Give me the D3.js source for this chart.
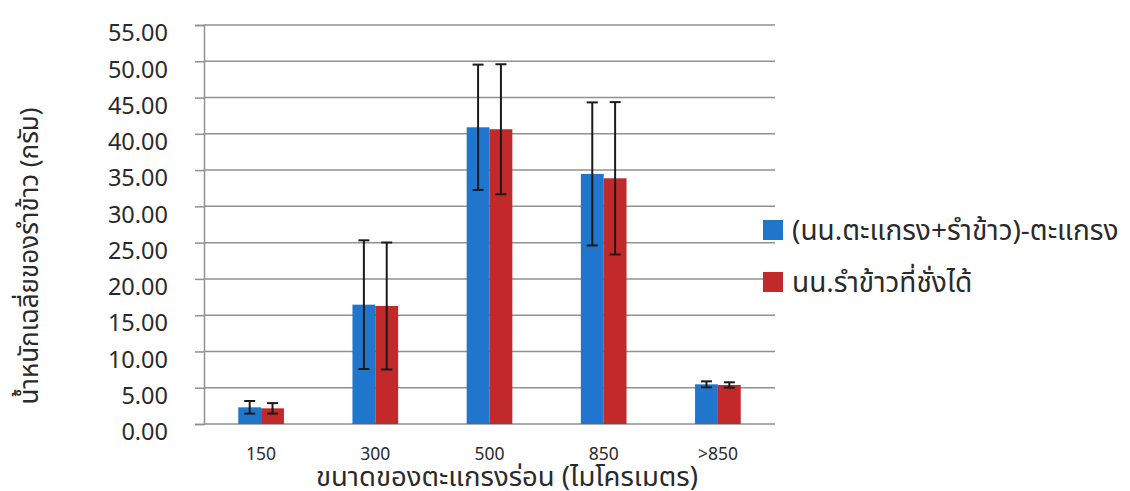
<!DOCTYPE html>
<html>
<head>
<meta charset="utf-8">
<script src="https://cdn.jsdelivr.net/npm/d3@7"></script>
<style>
    body{margin:0;background:#fff;}
    svg{display:block;}
    text{font-family:"Noto Sans","Noto Sans Thai",Tahoma,sans-serif;fill:#2a2a2a;}
</style>
</head>
<body>
<div id="chart"></div>
<script>
//chart data
const categories=[`150`,`300`,`500`,`850`,`>850`];
const seriesNames=[`(นน.ตะแกรง+รำข้าว)-ตะแกรง`,`นน.รำข้าวที่ชั่งได้`];
const netWeight=[2.30,16.45,40.90,34.47,5.47];
const netError=[0.87,8.87,8.64,9.86,0.41];
const riceBranWeight=[2.16,16.27,40.63,33.87,5.38];
const riceBranError=[0.72,8.75,8.96,10.50,0.37];
const yTicks=[0,5,10,15,20,25,30,35,40,45,50,55];
const yTitle=`น้ำหนักเฉลี่ยของรำข้าว (กรัม)`;
const xTitle=`ขนาดของตะแกรงร่อน (ไมโครเมตร)`;

let Setting={
    width:1130,
    height:491,
    plot:{left:204,right:775,top:25,bottom:424},
    color:[`#1f76cc`,`#c1292b`],
    grid:`#919191`
};

let Barchart={
    //empty svg
    generateGraph(container){
        return d3.select(container).append(`svg`)
            .attr(`width`,Setting.width)
            .attr(`height`,Setting.height);
    },
    generateYAxis(svg){
        let p=Setting.plot;
        let y=d3.scaleLinear().domain([0,55]).range([p.bottom,p.top]);

        //grid lines
        svg.append(`g`)
            .attr(`class`,`grid`)
            .selectAll(`line`)
            .data(yTicks)
            .enter()
            .append(`line`)
            .attr(`x1`,p.left)
            .attr(`x2`,p.right)
            .attr(`y1`,(d)=>{return y(d);})
            .attr(`y2`,(d)=>{return y(d);})
            .attr(`stroke`,Setting.grid)
            .attr(`stroke-width`,1.5);

        let axis=svg.append(`g`)
            .attr(`class`,`y axis`)
            .attr(`transform`,`translate(${p.left},0)`)
            .call(d3.axisLeft(y).tickValues(yTicks).tickFormat(d3.format(`.2f`)).tickSize(9).tickPadding(27));
        axis.select(`.domain`).attr(`stroke`,Setting.grid).attr(`stroke-width`,1.5);
        axis.selectAll(`.tick line`).attr(`stroke`,Setting.grid).attr(`stroke-width`,1.5);
        axis.selectAll(`.tick text`)
            .attr(`fill`,`#2a2a2a`)
            .attr(`dy`,`0.67em`)
            .style(`font-size`,`23.5px`);

        svg.append(`text`)
            .attr(`class`,`y unit`)
            .attr(`transform`,`translate(38,256) rotate(-90)`)
            .attr(`text-anchor`,`middle`)
            .style(`font-size`,`26px`)
            .text(yTitle);

        return y;
    },
    generateXAxis(svg){
        let p=Setting.plot;
        let x=d3.scaleBand().domain(categories).range([p.left,p.right]).paddingInner(0.6).paddingOuter(0.3);

        let axis=svg.append(`g`)
            .attr(`class`,`x axis`)
            .attr(`transform`,`translate(0,${p.bottom})`)
            .call(d3.axisBottom(x).tickSize(0).tickPadding(24));
        axis.select(`.domain`).remove();
        axis.selectAll(`.tick text`)
            .attr(`fill`,`#2a2a2a`)
            .style(`font-size`,`17.5px`);

        svg.append(`text`)
            .attr(`class`,`x unit`)
            .attr(`x`,507)
            .attr(`y`,486)
            .attr(`text-anchor`,`middle`)
            .style(`font-size`,`27.5px`)
            .text(xTitle);

        return x;
    },
    //bars + error bars
    generateBar(svg,x,y){
        let series=[
            {values:netWeight,errors:netError},
            {values:riceBranWeight,errors:riceBranError}
        ];
        let sub=d3.scaleBand().domain([0,1]).range([0,x.bandwidth()]);
        let rows=[];
        series.forEach((s,i)=>{
            categories.forEach((c,j)=>{
                rows.push({cat:c,s:i,value:s.values[j],err:s.errors[j]});
            });
        });

        svg.append(`g`)
            .attr(`class`,`bar graph`)
            .selectAll(`rect`)
            .data(rows)
            .enter()
            .append(`rect`)
            .attr(`x`,(d)=>{return x(d.cat)+sub(d.s);})
            .attr(`width`,sub.bandwidth())
            .attr(`y`,(d)=>{return y(d.value);})
            .attr(`height`,(d)=>{return y(0)-y(d.value);})
            .attr(`fill`,(d)=>{return Setting.color[d.s];});

        let err=svg.append(`g`)
            .attr(`class`,`error graph`)
            .selectAll(`g`)
            .data(rows)
            .enter()
            .append(`g`)
            .attr(`stroke`,`#1a1a1a`)
            .attr(`stroke-width`,2);
        let cx=(d)=>{return x(d.cat)+sub(d.s)+sub.bandwidth()/2;};
        err.append(`line`)
            .attr(`x1`,cx).attr(`x2`,cx)
            .attr(`y1`,(d)=>{return y(d.value+d.err);})
            .attr(`y2`,(d)=>{return y(d.value-d.err);});
        [1,-1].forEach((k)=>{
            err.append(`line`)
                .attr(`x1`,(d)=>{return cx(d)-5.5;})
                .attr(`x2`,(d)=>{return cx(d)+5.5;})
                .attr(`y1`,(d)=>{return y(d.value+k*d.err);})
                .attr(`y2`,(d)=>{return y(d.value+k*d.err);});
        });
    },
    generateLegend(svg){
        let legend=svg.append(`g`)
            .attr(`class`,`legend`)
            .selectAll(`g`)
            .data(seriesNames)
            .enter()
            .append(`g`)
            .attr(`transform`,(d,i)=>{return `translate(763,${220+i*52})`;});
        legend.append(`rect`)
            .attr(`width`,20)
            .attr(`height`,20)
            .attr(`fill`,(d,i)=>{return Setting.color[i];});
        legend.append(`text`)
            .attr(`x`,29)
            .attr(`y`,20)
            .style(`font-size`,`28px`)
            .text((d)=>{return d;});
    }
};

let svg=Barchart.generateGraph(`#chart`);
let y=Barchart.generateYAxis(svg);
let x=Barchart.generateXAxis(svg);
Barchart.generateBar(svg,x,y);
Barchart.generateLegend(svg);
</script>
</body>
</html>
